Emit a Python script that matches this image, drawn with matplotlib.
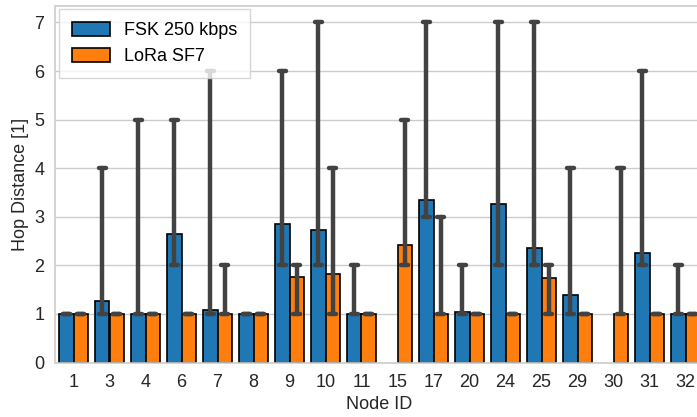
import numpy as np
import matplotlib
matplotlib.use("Agg")
import matplotlib.pyplot as plt

node_ids = ["1", "3", "4", "6", "7", "8", "9", "10", "11", "15", "17", "20", "24", "25", "29", "30", "31", "32"]

fsk_mean = [1.0, 1.27, 1.0, 2.64, 1.08, 1.0, 2.85, 2.73, 1.0, np.nan, 3.34, 1.05, 3.26, 2.35, 1.40, np.nan, 2.26, 1.0]
fsk_min = [1, 1, 1, 2, 1, 1, 2, 2, 1, np.nan, 3, 1, 2, 2, 1, np.nan, 2, 1]
fsk_max = [1, 4, 5, 5, 6, 1, 6, 7, 2, np.nan, 7, 2, 7, 7, 4, np.nan, 6, 2]

lora_mean = [1.0, 1.0, 1.0, 1.0, 1.0, 1.0, 1.77, 1.82, 1.0, 2.41, 1.0, 1.0, 1.0, 1.75, 1.0, 1.0, 1.0, 1.0]
lora_min = [1, 1, 1, 1, 1, 1, 1, 1, 1, 2, 1, 1, 1, 1, 1, 1, 1, 1]
lora_max = [1, 1, 1, 1, 2, 1, 2, 4, 1, 5, 3, 1, 1, 2, 1, 4, 1, 1]

series = [
    ("FSK 250 kbps", fsk_mean, fsk_min, fsk_max, "#1f77b4"),
    ("LoRa SF7", lora_mean, lora_min, lora_max, "#ff7f0e"),
]

plt.rcParams["font.family"] = ["Liberation Sans", "DejaVu Sans"]

fig = plt.figure(figsize=(6.97, 4.17), dpi=100)
ax = fig.add_axes([55.5 / 697, 54.5 / 417, 648 / 697, 357 / 417])

x = np.arange(len(node_ids))
w = 0.4
for i, (label, mean, lo, hi, color) in enumerate(series):
    pos = x + (i - 0.5) * w
    mean = np.array(mean, dtype=float)
    has = ~np.isnan(mean)
    ax.bar(pos[has], mean[has], width=w, color=color, edgecolor="black",
           linewidth=1.2, label=label, zorder=2)
    lo = np.array(lo, dtype=float)
    hi = np.array(hi, dtype=float)
    ok = ~np.isnan(lo)
    ax.vlines(pos[ok], lo[ok], hi[ok], color="#424242", linewidth=3.2, zorder=3,
              capstyle="round")
    for p, a, b in zip(pos[ok], lo[ok], hi[ok]):
        for yy in (a, b):
            ax.plot([p - 0.1, p + 0.1], [yy, yy], color="#424242", linewidth=3.2,
                    solid_capstyle="round", zorder=3)

ax.set_xlim(-0.5, len(node_ids) - 0.5)
ax.set_ylim(0, 7.35)
ax.set_xticks(x)
ax.set_xticklabels(node_ids)
ax.set_yticks(range(0, 8))
ax.tick_params(axis="both", labelsize=13, length=0, pad=8, colors="#262626")
ax.set_xlabel("Node ID", fontsize=13, color="#262626")
ax.set_ylabel("Hop Distance [1]", fontsize=13, color="#262626")
ax.yaxis.grid(True, color="#cccccc", linewidth=1, zorder=0)
ax.set_axisbelow(True)
for s in ax.spines.values():
    s.set_color("#cccccc")
    s.set_linewidth(1.2)

leg = ax.legend(loc="upper left", fontsize=13, frameon=True, fancybox=False,
                framealpha=0.8, edgecolor="#cccccc", borderpad=0.7,
                borderaxespad=0.2, handlelength=2.1, handleheight=0.8,
                handletextpad=0.8, labelspacing=0.5)
leg.set_zorder(5)

fig.savefig("out.png", dpi=100)
